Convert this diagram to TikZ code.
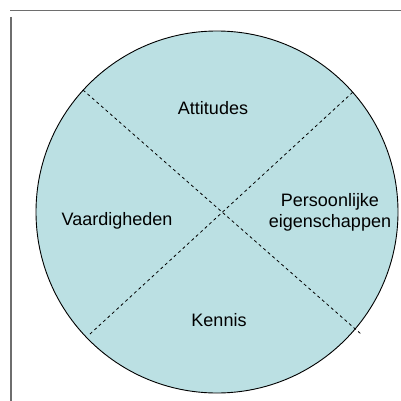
\documentclass[tikz,border=0pt]{standalone}
\usepackage{fontspec}
\setmainfont{Liberation Sans}
\usetikzlibrary{positioning}
\definecolor{discfill}{RGB}{187,224,227}
\definecolor{framegray}{RGB}{110,110,110}

\tikzset{
	sector/.style={font=\fontsize{18}{21}\selectfont, align=center, inner sep=0pt},
	divider/.style={dash pattern=on 3pt off 3pt, line width=0.8pt}
}

\begin{document}
\begin{tikzpicture}[x=1pt, y=-1pt]
	\useasboundingbox (0,0) rectangle (401,401);
	%frame
	\draw[framegray, line width=1pt] (10,10.5) -- (401,10.5);
	\draw[framegray, line width=1.4pt] (11,17) -- (11,401);
	%disc
	\node[circle, draw, line width=0.9pt, fill=discfill, minimum size=362pt, inner sep=0pt] (disc) at (217,212) {};
	%dividers
	\coordinate (ul) at (83,90);
	\coordinate (lr) at (361,334);
	\coordinate (ll) at (90,334);
	\coordinate (ur) at (353,92);
	\draw[divider] (ul) -- (lr);
	\draw[divider] (ll) -- (ur);
	%labels
	\node[sector] (attitudes) at (213,108.5) {Attitudes};
	\node[sector] (vaardig) at (117,221) {Vaardigheden};
	\node[sector] (persoon) at (330,212.5) {Persoonlijke\\eigenschappen};
	\node[sector] (kennis) at (219,320) {Kennis};
\end{tikzpicture}
\end{document}
